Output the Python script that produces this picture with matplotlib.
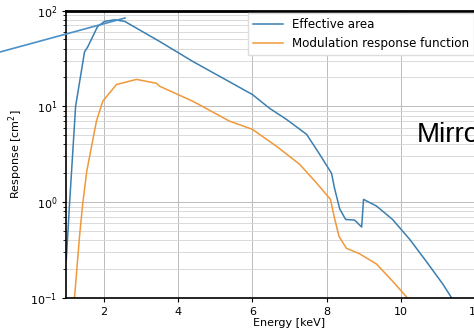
import numpy as np
import matplotlib.pyplot as plt
from matplotlib.lines import Line2D

# Effective area (energy in keV, response in cm^2)
area_energy = [1.00, 1.09, 1.25, 1.49, 1.58, 1.84, 2.03, 2.30, 2.57, 3.51, 4.40,
               6.00, 6.47, 6.92, 7.46, 7.81, 8.13, 8.21, 8.35, 8.51, 8.75, 8.94,
               8.99, 9.34, 9.77, 10.23, 10.68, 11.12, 11.36, 11.45]
area_resp = [0.25, 1.0, 10.0, 37.0, 42.0, 68.0, 77.0, 80.0, 77.0, 47.5, 29.4,
             13.3, 9.5, 7.3, 5.1, 3.16, 2.0, 1.4, 0.85, 0.66, 0.65, 0.55,
             1.07, 0.91, 0.66, 0.41, 0.24, 0.14, 0.10, 0.085]

# Modulation response function
mod_energy = [1.20, 1.22, 1.36, 1.44, 1.55, 1.81, 1.98, 2.35, 2.89, 3.42, 3.51,
              4.40, 5.39, 6.00, 6.65, 7.27, 7.73, 8.10, 8.21, 8.33, 8.53, 8.88,
              9.34, 9.77, 10.17, 10.25]
mod_resp = [0.08, 0.1, 0.46, 0.95, 2.1, 7.0, 11.3, 16.9, 19.1, 17.4, 16.2,
            11.3, 7.0, 5.76, 3.83, 2.49, 1.58, 1.07, 0.68, 0.44, 0.33, 0.29,
            0.226, 0.15, 0.10, 0.09]

x_ticks = [2, 4, 6, 8, 10, 12]

plt.rcParams['font.family'] = ['DejaVu Sans']

fig = plt.figure(figsize=(4.74, 3.32), dpi=100)
# axes run past the right edge, as in the cropped slide
ax = fig.add_axes([66.3 / 474, 34 / 332, 446.4 / 474, 287.5 / 332])

ax.plot(area_energy, area_resp, color='#3a7fb0', lw=1.1, label='Effective area')
ax.plot(mod_energy, mod_resp, color='#f0983a', lw=1.1, label='Modulation response function')

ax.set_yscale('log')
ax.set_xlim(1, 13)
ax.set_ylim(0.1, 100)
ax.set_xticks(x_ticks)
ax.tick_params(labelsize=8, length=3, color='black')
ax.grid(True, which='major', color='#bbbbbb', lw=0.7)
ax.grid(True, which='minor', axis='y', color='#d5d5d5', lw=0.6)
for s in ['top', 'left', 'bottom']:
    ax.spines[s].set_linewidth(1.2)
ax.spines['top'].set_linewidth(2.0)

ax.set_xlabel('Energy [keV]', fontsize=8, labelpad=1)
ax.set_ylabel('Response [cm$^2$]', fontsize=8, labelpad=4)

fig.legend(loc='upper left', bbox_to_anchor=(248 / 474, 1 - 13 / 332),
           fontsize=8.6, frameon=True, fancybox=False, framealpha=1,
           edgecolor='#dddddd', handlelength=2.5, borderaxespad=0)

# slide overlay: arrow line and cut-off title
fig.add_artist(Line2D([0, 125 / 474], [1 - 52 / 332, 1 - 18 / 332],
                      transform=fig.transFigure, color='#4a90c8', lw=1.2))
fig.text(417 / 474, 1 - 135 / 332, 'Mirror', fontsize=20, va='center',
         ha='left', family='Liberation Sans')

fig.savefig('out.png', dpi=100)
